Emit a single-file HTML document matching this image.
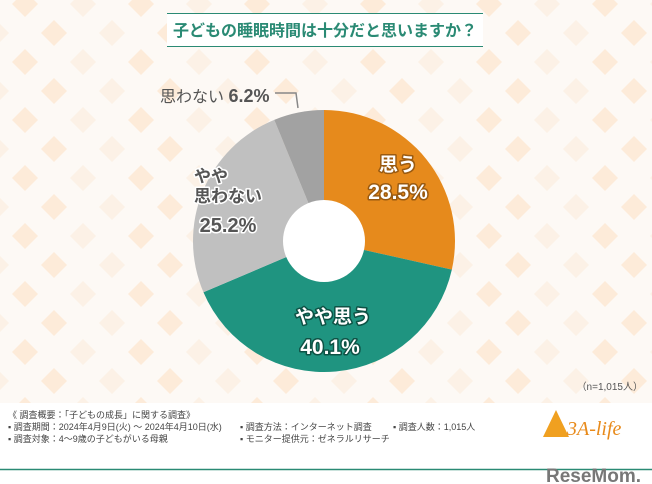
<!DOCTYPE html>
<html><head><meta charset="utf-8"><style>
body{margin:0;width:652px;height:484px;overflow:hidden;background:#fff;font-family:"Liberation Sans","Noto Sans CJK JP",sans-serif}
svg{display:block}
</style></head><body>
<svg width="652" height="484" viewBox="0 0 652 484">
<defs>
<pattern id="dia" width="116" height="58" patternUnits="userSpaceOnUse" x="-4" y="-25">
<rect width="116" height="58" fill="#fdf9f5"/>
<polygon points="29,16 42,29 29,42 16,29" fill="#fdebd9"/>
<polygon points="87,16 100,29 87,42 74,29" fill="#fcf1e6"/>
<polygon points="0,-13 13,0 0,13 -13,0" fill="#fcf1e6"/>
<polygon points="58,-13 71,0 58,13 45,0" fill="#fdebd9"/>
<polygon points="116,-13 129,0 116,13 103,0" fill="#fcf1e6"/>
<polygon points="0,45 13,58 0,71 -13,58" fill="#fcf1e6"/>
<polygon points="58,45 71,58 58,71 45,58" fill="#fdebd9"/>
<polygon points="116,45 129,58 116,71 103,58" fill="#fcf1e6"/>
</pattern>
</defs>
<rect width="652" height="403" fill="url(#dia)"/>
<g>
<rect x="167" y="13" width="316" height="34" fill="#fff"/>
<line x1="167" y1="13.5" x2="483" y2="13.5" stroke="#2a8a74" stroke-width="1"/>
<line x1="167" y1="46.5" x2="483" y2="46.5" stroke="#2a8a74" stroke-width="1"/>
<text x="325" y="36" text-anchor="middle" font-size="16" font-weight="bold" fill="#2a8a74">子どもの睡眠時間は十分だと思いますか？</text>
</g>
<g id="pie"></g>
<circle cx="324" cy="241" r="41" fill="#fff"/>
<polyline points="298,108 296,93 275,93" fill="none" stroke="#888" stroke-width="1.5"/>
<g font-weight="bold" stroke-linejoin="round" paint-order="stroke" text-anchor="middle">
<text x="398" y="171" font-size="19" fill="#fff" stroke="#9a5a10" stroke-width="3">思う</text>
<text x="398" y="199" font-size="21" fill="#fff" stroke="#9a5a10" stroke-width="3">28.5%</text>
<text x="333" y="323" font-size="19" fill="#fff" stroke="#0e5245" stroke-width="3">やや思う</text>
<text x="330" y="354" font-size="21" fill="#fff" stroke="#0e5245" stroke-width="3">40.1%</text>
<text x="211" y="182" font-size="17" fill="#555" stroke="#fff" stroke-width="3">やや</text>
<text x="228" y="202" font-size="17" fill="#555" stroke="#fff" stroke-width="3">思わない</text>
<text x="228" y="232" font-size="20" fill="#555" stroke="#fff" stroke-width="3">25.2%</text>
</g>
<text x="160" y="102" font-size="16" fill="#555">思わない <tspan font-size="18" font-weight="bold">6.2%</tspan></text>
<text x="643" y="390" text-anchor="end" font-size="10" fill="#555">（n=1,015人）</text>
<g font-size="9" fill="#444">
<text x="8" y="418">《 調査概要：「子どもの成長」に関する調査》</text>
<text x="8" y="430">▪ 調査期間：2024年4月9日(火) ～ 2024年4月10日(水)</text>
<text x="8" y="442">▪ 調査対象：4～9歳の子どもがいる母親</text>
<text x="240" y="430">▪ 調査方法：インターネット調査</text>
<text x="240" y="442">▪ モニター提供元：ゼネラルリサーチ</text>
<text x="393" y="430">▪ 調査人数：1,015人</text>
</g>
<g>
<polygon points="556,410 543,437 569,437" fill="#f0a020"/>
<text x="567" y="435" font-size="20" font-style="italic" fill="#e88a1a" font-family="Liberation Serif,serif">3A-life</text>
</g>
<line x1="0" y1="469.5" x2="652" y2="469.5" stroke="#2a8a74" stroke-width="1.5"/>
<text x="641" y="482" text-anchor="end" font-size="19" font-weight="bold" fill="#777">ReseMom.</text>
</svg>
<script>
const categories=["思う","やや思う","やや思わない","思わない"];
const values=[28.5,40.1,25.2,6.2];
const colors=["#e68a1c","#1f9480","#c0c0c0","#a2a2a2"];
const g=document.getElementById('pie');
const cx=324,cy=241,r=131;
const total=values.reduce((a,b)=>a+b,0);
let a0=0;
values.forEach((v,i)=>{
  const a1=a0+v/total*Math.PI*2;
  const x0=cx+r*Math.sin(a0),y0=cy-r*Math.cos(a0);
  const x1=cx+r*Math.sin(a1),y1=cy-r*Math.cos(a1);
  const p=document.createElementNS('http://www.w3.org/2000/svg','path');
  p.setAttribute('d',`M${cx},${cy} L${x0},${y0} A${r},${r} 0 ${a1-a0>Math.PI?1:0} 1 ${x1},${y1} Z`);
  p.setAttribute('fill',colors[i]);
  
  
  g.appendChild(p);
  a0=a1;
});
</script>
</body></html>
